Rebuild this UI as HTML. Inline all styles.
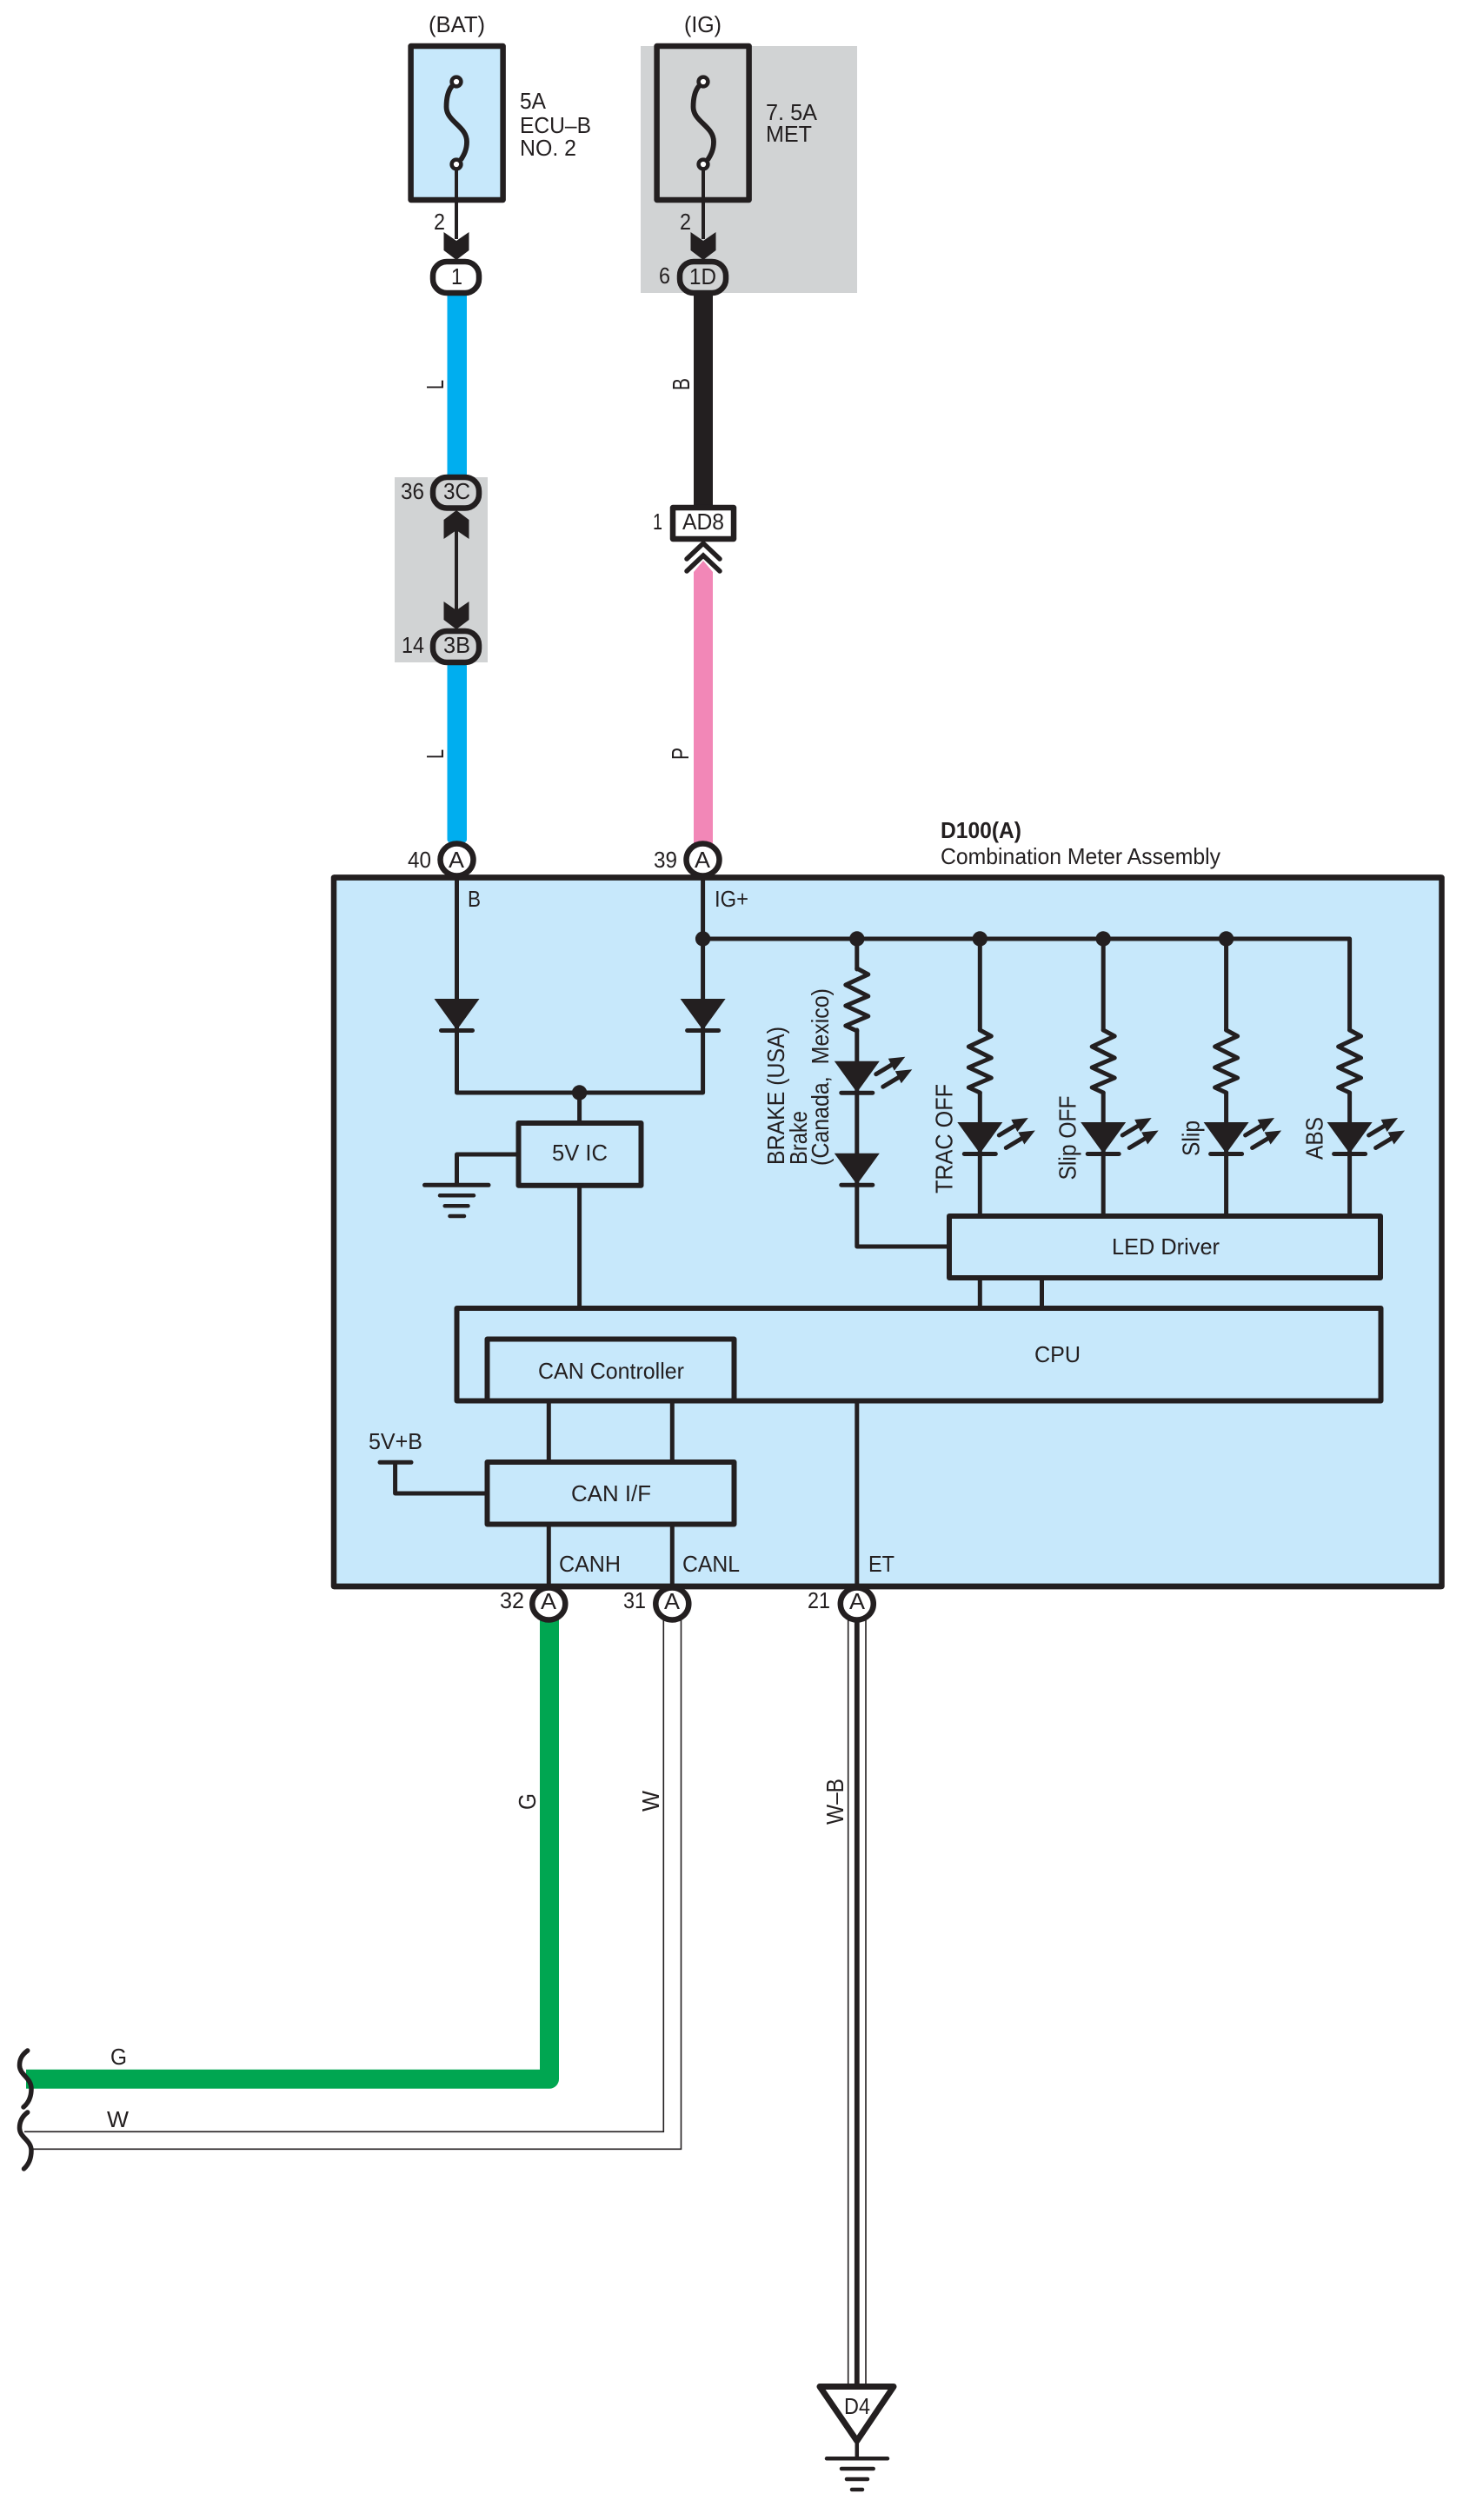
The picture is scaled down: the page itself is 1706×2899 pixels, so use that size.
<!DOCTYPE html>
<html lang="en"><head><meta charset="utf-8"><title>Combination Meter Assembly</title>
<style>
html,body{margin:0;padding:0;background:#fff}
svg{display:block}
text{font-family:"Liberation Sans",Arial,sans-serif;font-size:26px;fill:#231f20}
.r{font-size:28px}
.k{fill:none;stroke:#231f20;stroke-width:5;stroke-linecap:round;stroke-linejoin:round}
.b{fill:none;stroke:#231f20;stroke-width:6;stroke-linejoin:round}
.p{stroke:#231f20;stroke-width:6.5}
.g{stroke:#231f20;stroke-width:4.5;stroke-linecap:round;fill:none}
.f{fill:#231f20}
</style></head><body>
<svg xmlns="http://www.w3.org/2000/svg" width="1706" height="2899" viewBox="0 0 1706 2899">
<defs>
<g id="fuse">
<path d="M520,99C515,105 513.5,114 513.5,123C513.5,140 537,145 537,163C537,172 534,178 530,184" fill="none" stroke="#231f20" stroke-width="5.8"/>
<circle cx="525" cy="94" r="5.4" fill="#fff" stroke="#231f20" stroke-width="4.5"/>
<circle cx="525" cy="189" r="5.4" fill="#fff" stroke="#231f20" stroke-width="4.5"/>
<rect x="523" y="195" width="4" height="80" fill="#231f20"/>
<path d="M510.5,267L525,277L539.5,267V288L525,299L510.5,288Z" fill="#231f20"/>
</g>
<path id="res" d="M0,0L13,7L-13,19L13,32L-13,43L13,55L-13,66L0,72" fill="none" stroke="#231f20" stroke-width="5" stroke-linejoin="round" stroke-linecap="round"/>
<g id="tri">
<path d="M-26,0H26L0,36Z" fill="#231f20"/>
<path d="M-18,36.5H18" stroke="#231f20" stroke-width="5" stroke-linecap="round"/>
</g>
<g id="ray">
<path d="M22,15L42,3" stroke="#231f20" stroke-width="5" stroke-linecap="round"/>
<path d="M55.5,-5L36,-3L43,11Z" fill="#231f20"/>
</g>
<g id="led">
<use href="#tri"/><use href="#ray"/><use href="#ray" transform="translate(8,14.5)"/>
</g>
<g id="dot"><circle r="8.7" fill="#231f20"/></g>
</defs>

<!-- grey zones -->
<rect x="737" y="53" width="249" height="284" fill="#d1d3d4"/>
<rect x="454" y="549" width="107" height="213" fill="#d1d3d4"/>

<!-- fuse boxes -->
<rect x="472.6" y="53" width="106" height="177" fill="#c7e8fb" stroke="#231f20" stroke-width="6.5" stroke-linejoin="round"/>
<rect x="755.6" y="53" width="106" height="177" fill="none" stroke="#231f20" stroke-width="6.5" stroke-linejoin="round"/>
<use href="#fuse"/>
<use href="#fuse" transform="translate(284,0)"/>
<text x="493" y="37" textLength="65" lengthAdjust="spacingAndGlyphs">(BAT)</text>
<text x="787" y="37" textLength="43" lengthAdjust="spacingAndGlyphs">(IG)</text>
<text x="598" y="125" textLength="30" lengthAdjust="spacingAndGlyphs">5A</text>
<text x="598" y="153" textLength="82" lengthAdjust="spacingAndGlyphs">ECU–B</text>
<text x="598" y="179" textLength="65" lengthAdjust="spacingAndGlyphs">NO. 2</text>
<text x="881" y="138" textLength="59" lengthAdjust="spacingAndGlyphs">7. 5A</text>
<text x="881" y="163" textLength="53" lengthAdjust="spacingAndGlyphs">MET</text>
<text x="499" y="264" textLength="13" lengthAdjust="spacingAndGlyphs">2</text>
<text x="782" y="264" textLength="13" lengthAdjust="spacingAndGlyphs">2</text>

<!-- wires top -->
<rect x="514.5" y="338" width="22.5" height="210" fill="#00aeef"/>
<rect x="514.5" y="763" width="22.5" height="206" rx="3" fill="#00aeef"/>
<rect x="798" y="338" width="22" height="245" fill="#231f20"/>
<path d="M798,970V658L809,645L820,658V970Z" fill="#f287b7"/>
<path d="M790,643L809,625L828,643M790,657L809,639L828,657" fill="none" stroke="#231f20" stroke-width="5.5" stroke-linecap="round"/>

<!-- connectors top -->
<rect x="498" y="301" width="53" height="36" rx="16" fill="#fff" class="p"/>
<rect x="782" y="301" width="53" height="36" rx="16" fill="#d1d3d4" class="p"/>
<text x="519" y="327" textLength="13" lengthAdjust="spacingAndGlyphs">1</text>
<text x="793" y="327" textLength="31" lengthAdjust="spacingAndGlyphs">1D</text>
<text x="758" y="326" textLength="13" lengthAdjust="spacingAndGlyphs">6</text>

<rect x="498" y="549" width="53" height="35.5" rx="16" fill="#d1d3d4" class="p"/>
<rect x="498" y="726" width="53" height="36" rx="16" fill="#d1d3d4" class="p"/>
<text x="510" y="574" textLength="31" lengthAdjust="spacingAndGlyphs">3C</text>
<text x="510" y="751" textLength="31" lengthAdjust="spacingAndGlyphs">3B</text>
<text x="461" y="574" textLength="27" lengthAdjust="spacingAndGlyphs">36</text>
<text x="462" y="751" textLength="26" lengthAdjust="spacingAndGlyphs">14</text>
<rect x="523" y="600" width="4" height="110" fill="#231f20"/>
<path d="M525,587L539.5,598V620L525,610L510.5,620V598Z" fill="#231f20"/>
<path d="M510.5,692L525,702L539.5,692V713L525,724L510.5,713Z" fill="#231f20"/>

<rect x="774" y="584" width="70" height="36" fill="#fff" class="p" stroke-linejoin="round"/>
<text x="785" y="609" textLength="48" lengthAdjust="spacingAndGlyphs">AD8</text>
<text x="751" y="609" textLength="11" lengthAdjust="spacingAndGlyphs">1</text>

<text class="r" transform="translate(510,448) rotate(-90)" textLength="11" lengthAdjust="spacingAndGlyphs">L</text>
<text class="r" transform="translate(793,449) rotate(-90)" textLength="14" lengthAdjust="spacingAndGlyphs">B</text>
<text class="r" transform="translate(510,873) rotate(-90)" textLength="11" lengthAdjust="spacingAndGlyphs">L</text>
<text class="r" transform="translate(792,874) rotate(-90)" textLength="14" lengthAdjust="spacingAndGlyphs">P</text>

<!-- main box -->
<rect x="384" y="1009.5" width="1274.5" height="815.5" fill="#c7e8fb" stroke="#231f20" stroke-width="6.5" stroke-linejoin="round"/>
<text x="1082" y="964" font-weight="bold" textLength="93" lengthAdjust="spacingAndGlyphs">D100(A)</text>
<text x="1082" y="994" textLength="322" lengthAdjust="spacingAndGlyphs">Combination Meter Assembly</text>

<!-- top connectors A -->
<ellipse cx="525.5" cy="989" rx="19" ry="18.5" fill="#fff" class="p"/>
<ellipse cx="808.5" cy="989" rx="19" ry="18.5" fill="#fff" class="p"/>
<path d="M384,1009.5H1658" stroke="#231f20" stroke-width="6.5"/>
<text x="516" y="998" textLength="18" lengthAdjust="spacingAndGlyphs">A</text>
<text x="799" y="998" textLength="18" lengthAdjust="spacingAndGlyphs">A</text>
<text x="469" y="998" textLength="27" lengthAdjust="spacingAndGlyphs">40</text>
<text x="752" y="998" textLength="27" lengthAdjust="spacingAndGlyphs">39</text>
<text x="538" y="1043" textLength="15" lengthAdjust="spacingAndGlyphs">B</text>
<text x="822" y="1043" textLength="39" lengthAdjust="spacingAndGlyphs">IG+</text>

<!-- internal wiring -->
<path class="k" d="M525.5,1012V1257H808.6V1012"/>
<path class="k" d="M808.6,1080H1552.6V1185M1552.6,1257V1398"/>
<path class="k" d="M666.6,1257V1292M666.6,1364V1505"/>
<path class="k" d="M594,1328H525.5V1363"/>
<path class="k" d="M488.5,1363.3H562" stroke-width="5"/>
<path class="g" d="M506,1375.3H545M511.7,1387.3H538.5M517.5,1399H534"/>
<use href="#tri" x="525.5" y="1149"/>
<use href="#tri" x="808.6" y="1149"/>
<use href="#dot" x="808.6" y="1080"/>
<use href="#dot" x="985.8" y="1080"/>
<use href="#dot" x="1127.3" y="1080"/>
<use href="#dot" x="1269.2" y="1080"/>
<use href="#dot" x="1410.6" y="1080"/>
<use href="#dot" x="666.6" y="1257"/>

<!-- brake column -->
<path class="k" d="M985.8,1080V1115M985.8,1185V1434H1090"/>
<use href="#res" x="985.8" y="1114"/>
<use href="#led" x="985.8" y="1220.7"/>
<use href="#tri" x="985.8" y="1326.7"/>

<!-- LED columns -->
<path class="k" d="M1127.3,1080V1185M1127.3,1257V1398M1269.2,1080V1185M1269.2,1257V1398M1410.6,1080V1185M1410.6,1257V1398"/>
<use href="#res" x="1127.3" y="1185"/>
<use href="#res" x="1269.2" y="1185"/>
<use href="#res" x="1410.6" y="1185"/>
<use href="#res" x="1552.6" y="1185"/>
<use href="#led" x="1127.3" y="1291"/>
<use href="#led" x="1269.2" y="1291"/>
<use href="#led" x="1410.6" y="1291"/>
<use href="#led" x="1552.6" y="1291"/>

<text class="r" transform="translate(902,1340) rotate(-90)" textLength="159" lengthAdjust="spacingAndGlyphs">BRAKE (USA)</text>
<text class="r" transform="translate(928,1340) rotate(-90)" textLength="62" lengthAdjust="spacingAndGlyphs">Brake</text>
<text class="r" transform="translate(953,1341) rotate(-90)" textLength="204" lengthAdjust="spacingAndGlyphs" xml:space="preserve">(Canada,  Mexico)</text>
<text class="r" transform="translate(1095.5,1373) rotate(-90)" textLength="126" lengthAdjust="spacingAndGlyphs">TRAC OFF</text>
<text class="r" transform="translate(1237.5,1357.5) rotate(-90)" textLength="97" lengthAdjust="spacingAndGlyphs">Slip OFF</text>
<text class="r" transform="translate(1379.5,1330) rotate(-90)" textLength="41" lengthAdjust="spacingAndGlyphs">Slip</text>
<text class="r" transform="translate(1521.5,1334) rotate(-90)" textLength="49" lengthAdjust="spacingAndGlyphs">ABS</text>

<!-- blocks -->
<rect x="596.5" y="1292" width="141" height="71.7" class="b"/>
<text x="635" y="1335" textLength="64" lengthAdjust="spacingAndGlyphs" xml:space="preserve">5V IC</text>
<rect x="1092" y="1399" width="496" height="71" class="b"/>
<text x="1279" y="1443" textLength="124" lengthAdjust="spacingAndGlyphs">LED Driver</text>
<path class="k" d="M1127.3,1472V1504M1198.5,1472V1504"/>
<rect x="525.5" y="1505" width="1063" height="106.5" class="b"/>
<path class="b" d="M560.5,1611V1540.5H844.5V1611"/>
<text x="1190" y="1567" textLength="53" lengthAdjust="spacingAndGlyphs">CPU</text>
<text x="619" y="1586" textLength="168" lengthAdjust="spacingAndGlyphs">CAN Controller</text>
<rect x="560.5" y="1682" width="284" height="71.5" class="b"/>
<text x="657" y="1727" textLength="92" lengthAdjust="spacingAndGlyphs">CAN I/F</text>
<path class="k" d="M631.3,1614V1680M773.3,1614V1680M631.3,1755V1824M773.3,1755V1824M985.8,1614V1824"/>
<path class="k" d="M437,1682.3H473M454.6,1682.3V1718H559"/>
<text x="424" y="1667" textLength="62" lengthAdjust="spacingAndGlyphs">5V+B</text>
<text x="643" y="1808" textLength="71" lengthAdjust="spacingAndGlyphs">CANH</text>
<text x="785" y="1808" textLength="66" lengthAdjust="spacingAndGlyphs">CANL</text>
<text x="999" y="1808" textLength="30" lengthAdjust="spacingAndGlyphs">ET</text>

<!-- lower wires -->
<path d="M632,1860V2391.7H30" fill="none" stroke="#00a651" stroke-width="22" stroke-linejoin="round"/>
<path d="M763.3,1860V2452.3H28M783.5,1860V2472.3H36" fill="none" stroke="#231f20" stroke-width="1.6"/>
<path d="M975.7,1860V2750M996,1860V2750" fill="none" stroke="#231f20" stroke-width="1.6"/>
<path d="M985.8,1860V2750" fill="none" stroke="#231f20" stroke-width="5.8"/>

<!-- bottom connectors -->
<ellipse cx="631.3" cy="1845" rx="19" ry="18.5" fill="#fff" class="p"/>
<ellipse cx="773.3" cy="1845" rx="19" ry="18.5" fill="#fff" class="p"/>
<ellipse cx="985.8" cy="1845" rx="19" ry="18.5" fill="#fff" class="p"/>
<path d="M384,1825H1658" stroke="#231f20" stroke-width="6.5"/>
<text x="622" y="1851" textLength="18" lengthAdjust="spacingAndGlyphs">A</text>
<text x="764" y="1851" textLength="18" lengthAdjust="spacingAndGlyphs">A</text>
<text x="977" y="1851" textLength="18" lengthAdjust="spacingAndGlyphs">A</text>
<text x="575" y="1850" textLength="28" lengthAdjust="spacingAndGlyphs">32</text>
<text x="717" y="1850" textLength="26" lengthAdjust="spacingAndGlyphs">31</text>
<text x="929" y="1850" textLength="26" lengthAdjust="spacingAndGlyphs">21</text>

<text class="r" transform="translate(616,2082) rotate(-90)" textLength="19" lengthAdjust="spacingAndGlyphs">G</text>
<text class="r" transform="translate(758,2084) rotate(-90)" textLength="24" lengthAdjust="spacingAndGlyphs">W</text>
<text class="r" transform="translate(970,2099) rotate(-90)" textLength="53" lengthAdjust="spacingAndGlyphs">W–B</text>
<text x="127" y="2375" textLength="19" lengthAdjust="spacingAndGlyphs">G</text>
<text x="123" y="2447" textLength="25" lengthAdjust="spacingAndGlyphs">W</text>

<!-- break waves -->
<path d="M31.7,2359C25,2364 22.5,2369 22.5,2376C22.5,2387 36,2390 36,2403C36,2412 33,2419 27,2424" fill="none" stroke="#231f20" stroke-width="5.5" stroke-linecap="round"/>
<path d="M31.7,2430C25,2435 22.5,2441 22.5,2448C22.5,2459 36,2462 36,2474C36,2483 33,2490 27.5,2495" fill="none" stroke="#231f20" stroke-width="5.5" stroke-linecap="round"/>

<!-- ground D4 -->
<path d="M943,2745.5H1028L985.8,2808Z" fill="#fff" stroke="#231f20" stroke-width="7" stroke-linejoin="round"/>
<text x="971" y="2777" textLength="30" lengthAdjust="spacingAndGlyphs">D4</text>
<path d="M985.8,2810V2828" stroke="#231f20" stroke-width="4.5"/>
<path class="g" d="M951,2828.3H1021M968,2840H1004.7M974,2852H998M980,2864H992"/>
</svg>
</body></html>
